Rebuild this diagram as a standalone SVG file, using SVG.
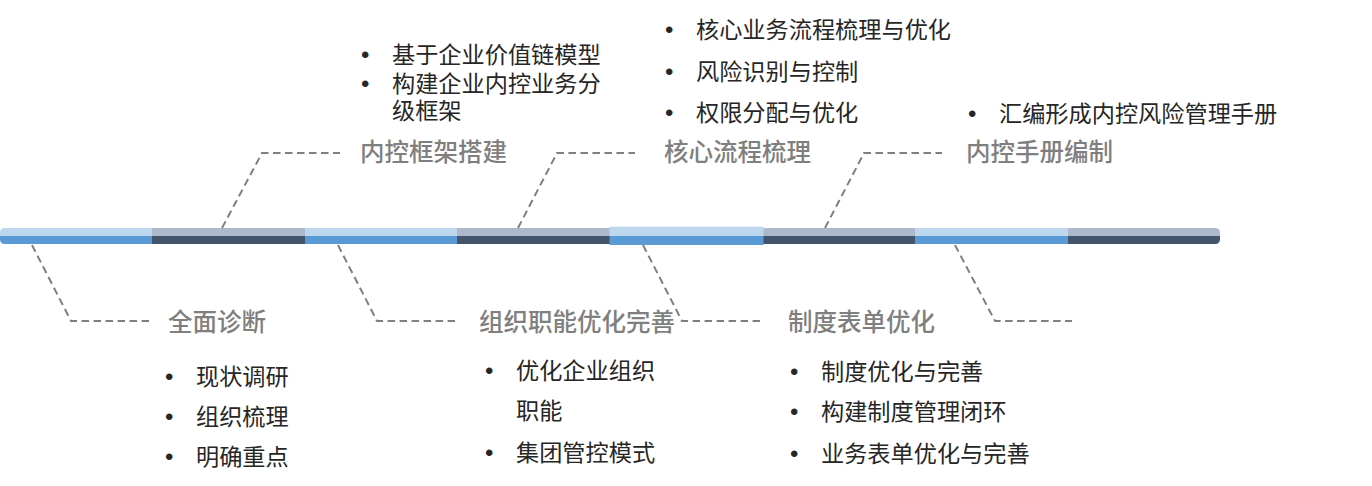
<svg xmlns="http://www.w3.org/2000/svg" width="1372" height="486" viewBox="0 0 1372 486">
<defs>
<style>
.title{font-family:"Noto Sans CJK SC","Liberation Sans",sans-serif;font-size:24.5px;fill:#7F7F7F;font-weight:500}
.item{font-family:"Noto Sans CJK SC","Liberation Sans",sans-serif;font-size:23.2px;fill:#262626}
.dot{font-family:"Liberation Sans",sans-serif;font-size:24px;fill:#262626}
.conn{fill:none;stroke:#7F7F7F;stroke-width:2;stroke-dasharray:7.5 4.5}
.lb{fill:#BDD7EE}.db{fill:#5B9BD5}.lg{fill:#ADB9CA}.dg{fill:#44546A}
</style>
<clipPath id="barclip"><rect x="0" y="228" width="1220" height="16" rx="4.5"/></clipPath>
</defs>
<rect width="1372" height="486" fill="#FFFFFF"/>
<g id="timeline-bar">
<g clip-path="url(#barclip)">
<rect class="lb" x="0" y="228" width="152" height="8"/><rect class="db" x="0" y="236" width="152" height="8"/>
<rect class="lg" x="152" y="228" width="153" height="8"/><rect class="dg" x="152" y="236" width="153" height="8"/>
<rect class="lb" x="305" y="228" width="152" height="8"/><rect class="db" x="305" y="236" width="152" height="8"/>
<rect class="lg" x="457" y="228" width="153" height="8"/><rect class="dg" x="457" y="236" width="153" height="8"/>
<rect class="lg" x="763" y="228" width="152" height="8"/><rect class="dg" x="763" y="236" width="152" height="8"/>
<rect class="lb" x="915" y="228" width="153" height="8"/><rect class="db" x="915" y="236" width="153" height="8"/>
<rect class="lg" x="1068" y="228" width="152" height="8"/><rect class="dg" x="1068" y="236" width="152" height="8"/>
</g>
<rect class="lb" x="609.5" y="226.7" width="154" height="9.3"/><rect class="db" x="609.5" y="236" width="154" height="9"/>
</g>
<g id="connectors">
<polyline class="conn" points="32,245 71,321 150,321"/>
<polyline class="conn" points="222,228 262,153 340,153"/>
<polyline class="conn" points="338,245 377,321 455,321"/>
<polyline class="conn" points="518,228 557,153 635,153"/>
<polyline class="conn" points="643,245 682,321 760,321"/>
<polyline class="conn" points="825,228 864,153 942,153"/>
<polyline class="conn" points="955,245 995,321 1072,321"/>
</g>
<g id="node-diagnosis">
<text class="title" x="168" y="331">全面诊断</text>
<text class="dot" x="165" y="385">•</text><text class="item" x="196" y="385">现状调研</text>
<text class="dot" x="165" y="425">•</text><text class="item" x="196" y="425">组织梳理</text>
<text class="dot" x="165" y="465">•</text><text class="item" x="196" y="465">明确重点</text>
</g>
<g id="node-framework">
<text class="title" x="360" y="161">内控框架搭建</text>
<text class="dot" x="361" y="63">•</text><text class="item" x="392" y="63">基于企业价值链模型</text>
<text class="dot" x="361" y="92">•</text><text class="item" x="392" y="92">构建企业内控业务分</text>
<text class="item" x="392" y="119">级框架</text>
</g>
<g id="node-organization">
<text class="title" x="479" y="331">组织职能优化完善</text>
<text class="dot" x="485" y="379">•</text><text class="item" x="516" y="379">优化企业组织</text>
<text class="item" x="516" y="419">职能</text>
<text class="dot" x="485" y="461">•</text><text class="item" x="516" y="461">集团管控模式</text>
</g>
<g id="node-process">
<text class="title" x="664" y="161">核心流程梳理</text>
<text class="dot" x="665" y="38">•</text><text class="item" x="696" y="38">核心业务流程梳理与优化</text>
<text class="dot" x="665" y="80">•</text><text class="item" x="696" y="80">风险识别与控制</text>
<text class="dot" x="665" y="121">•</text><text class="item" x="696" y="121">权限分配与优化</text>
</g>
<g id="node-forms">
<text class="title" x="788" y="331">制度表单优化</text>
<text class="dot" x="790" y="380">•</text><text class="item" x="821" y="380">制度优化与完善</text>
<text class="dot" x="790" y="420">•</text><text class="item" x="821" y="420">构建制度管理闭环</text>
<text class="dot" x="790" y="462">•</text><text class="item" x="821" y="462">业务表单优化与完善</text>
</g>
<g id="node-manual">
<text class="title" x="966" y="161">内控手册编制</text>
<text class="dot" x="968" y="122">•</text><text class="item" x="999" y="122">汇编形成内控风险管理手册</text>
</g>
</svg>
